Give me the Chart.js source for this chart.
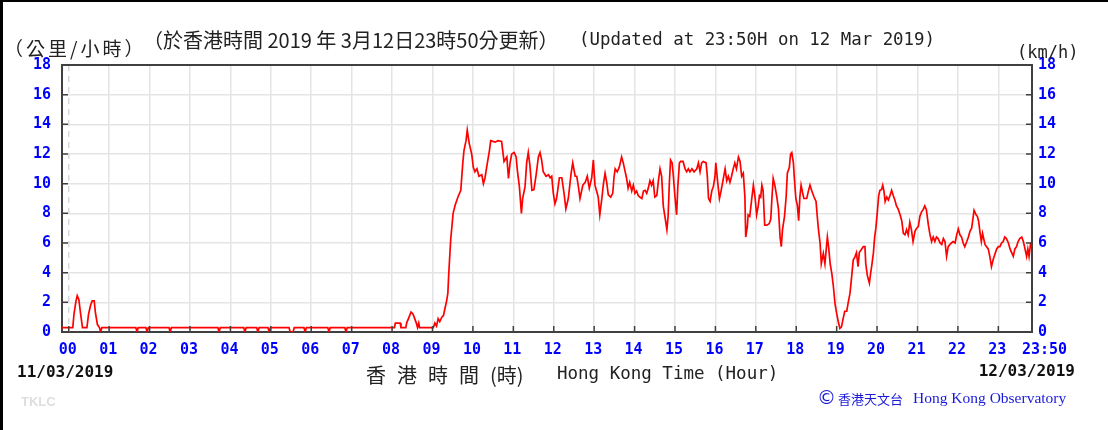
<!DOCTYPE html>
<html><head><meta charset="utf-8">
<script src="https://cdn.jsdelivr.net/npm/chart.js@4.4.1/dist/chart.umd.min.js"></script>
<style>html,body{margin:0;padding:0;background:#fff;}canvas{display:block;}</style>
</head><body>
<canvas id="c" width="1108" height="430"></canvas>
<script>
// ---- data (hour of day, wind speed km/h) ----
const hours = [
-0.167,0.10,0.13,0.18,0.21,0.25,0.29,0.34,0.45,0.49,0.54,0.58,0.63,0.66,0.71,0.76,0.79,0.82,
1.66,1.69,1.72,1.91,1.94,1.97,2.48,2.51,2.54,3.69,3.72,3.75,4.33,4.36,4.39,4.65,4.68,4.71,4.93,4.96,4.99,5.45,5.48,5.55,5.58,5.82,5.85,5.88,6.41,6.44,6.47,6.83,6.86,6.89,
8.06,8.08,8.20,8.22,8.34,8.36,8.42,8.47,8.52,8.56,8.60,8.63,8.66,8.68,9.02,9.06,9.10,9.14,9.18,9.23,9.27,9.31,9.35,9.38,9.40,9.45,9.51,9.56,9.63,9.70,
9.75,9.78,9.83,9.86,9.91,9.97,10.01,10.05,10.10,10.15,10.22,10.26,10.30,10.34,10.41,10.44,10.55,10.62,10.71,10.77,10.84,10.88,10.92,10.96,
11.02,11.07,11.10,11.15,11.20,11.23,11.29,11.33,11.37,11.41,11.46,11.51,11.56,11.62,11.66,11.70,11.74,11.81,11.87,11.91,11.95,11.99,
12.03,12.07,12.14,12.20,12.26,12.30,12.36,12.43,12.47,12.53,12.57,12.61,12.65,12.72,12.78,12.83,12.88,12.94,12.98,
13.02,13.06,13.10,13.14,13.19,13.23,13.27,13.31,13.35,13.41,13.46,13.49,13.52,13.57,13.62,13.68,13.72,13.76,13.80,13.84,13.88,13.93,13.97,
14.01,14.05,14.09,14.13,14.18,14.22,14.26,14.30,14.34,14.38,14.42,14.46,14.50,14.55,14.59,14.63,14.67,14.71,14.75,14.80,14.83,14.86,14.89,14.93,14.96,
15.00,15.04,15.07,15.11,15.14,15.20,15.25,15.29,15.33,15.37,15.42,15.47,15.54,15.58,15.62,15.66,15.70,15.77,15.80,15.83,15.87,15.91,15.95,15.99,
16.01,16.06,16.10,16.14,16.18,16.24,16.28,16.32,16.36,16.40,16.44,16.48,16.52,16.57,16.61,16.65,16.69,16.73,16.75,16.79,16.81,16.85,16.90,16.94,16.98,
17.02,17.06,17.09,17.12,17.15,17.18,17.22,17.27,17.33,17.37,17.40,17.43,17.47,17.52,17.56,17.60,17.63,17.66,17.71,17.75,17.78,17.83,17.86,17.89,17.93,17.95,17.99,
18.03,18.06,18.09,18.12,18.16,18.19,18.26,18.30,18.34,18.38,18.44,18.49,18.52,18.55,18.59,18.62,18.67,18.71,18.74,18.77,18.80,18.84,18.88,18.92,18.96,
19.00,19.04,19.08,19.12,19.16,19.20,19.25,19.29,19.33,19.37,19.41,19.45,19.49,19.53,19.56,19.62,19.66,19.70,19.72,19.76,19.81,19.84,19.87,19.91,19.94,19.97,
20.01,20.04,20.07,20.11,20.14,20.17,20.20,20.24,20.28,20.32,20.36,20.40,20.44,20.48,20.52,20.57,20.61,20.65,20.69,20.73,20.77,20.81,20.85,20.89,20.94,20.98,
21.02,21.06,21.10,21.14,21.18,21.22,21.27,21.31,21.35,21.39,21.43,21.47,21.51,21.56,21.60,21.64,21.68,21.72,21.76,21.80,21.84,21.88,21.93,21.97,
22.01,22.05,22.09,22.13,22.17,22.22,22.26,22.30,22.34,22.38,22.40,22.45,22.48,22.51,22.55,22.58,22.61,22.67,22.71,22.75,22.79,22.83,22.87,22.91,22.96,
23.00,23.04,23.08,23.12,23.16,23.20,23.25,23.29,23.33,23.37,23.41,23.45,23.49,23.53,23.58,23.62,23.66,23.70,23.73,23.76,23.80,23.833
];
const speeds = [
0.3,0.3,1.2,2.1,2.45,2.2,1.3,0.3,0.3,1.2,1.8,2.1,2.1,1.3,0.5,0.3,0,0.3,
0.3,0,0.3,0.3,0,0.3,0.3,0,0.3,0.3,0,0.3,0.3,0,0.3,0.3,0,0.3,0.3,0,0.3,0.3,0,0,0.3,0.3,0,0.3,0.3,0,0.3,0.3,0,0.3,
0.3,0.6,0.6,0.3,0.3,0.6,1.0,1.35,1.2,0.9,0.6,0.3,0.6,0.3,0.3,0.6,0.4,0.9,0.7,1.0,1.1,1.6,2.1,2.6,3.8,6.2,8.0,8.55,9.1,9.55,
11.4,12.25,12.9,13.6,12.7,12.0,11.1,10.8,11.0,10.5,10.6,10.0,10.4,11.1,12.25,12.9,12.8,12.9,12.85,11.5,11.8,10.35,11.4,12.0,
12.1,11.8,10.9,9.8,8.0,9.0,9.8,11.4,12.1,11.25,9.55,9.6,10.5,11.8,12.1,11.6,10.8,10.5,10.6,10.4,10.5,9.35,
8.65,9.0,10.4,10.4,9.25,8.3,9.0,10.7,11.4,10.5,10.5,9.8,9.0,9.9,10.1,10.5,9.7,10.4,11.6,
9.9,9.5,9.1,7.9,9.0,10.0,10.7,10.1,9.25,9.1,9.35,10.4,11.0,10.8,11.1,11.8,11.4,10.9,10.4,9.7,10.1,9.5,9.9,
9.35,9.5,9.2,9.1,9.0,9.5,9.55,9.35,9.7,10.2,9.9,10.2,9.1,9.2,10.2,11.0,10.5,8.5,7.8,6.9,7.8,10.0,11.6,11.4,10.5,
9.1,7.9,9.8,11.4,11.5,11.5,11.0,10.8,11.0,10.8,11.0,10.8,11.0,11.4,10.8,11.4,11.5,11.4,10.5,9.0,8.8,9.5,9.8,10.5,
11.4,10.0,9.0,9.5,10.1,11.0,10.2,10.5,10.1,10.5,11.0,11.4,11.0,11.8,11.5,10.5,10.7,9.1,6.4,7.1,7.9,7.8,9.0,9.9,9.1,
7.9,8.5,9.2,9.1,9.9,9.55,7.2,7.2,7.3,7.6,9.1,10.35,9.9,9.1,8.3,6.4,5.75,6.9,7.8,9.1,10.7,11.1,12.0,12.1,11.4,10.5,9.0,
8.5,7.5,9.1,9.9,9.35,9.0,9.0,9.5,9.9,9.55,9.1,8.8,7.8,6.9,6.0,4.6,5.3,4.6,5.5,6.4,5.75,4.6,3.95,3.05,1.9,
1.25,0.7,0.25,0.35,0.9,1.4,1.4,2.05,2.6,3.7,4.85,5.05,5.35,4.4,5.35,5.6,5.75,5.75,4.6,3.8,3.3,3.95,4.5,5.35,6.4,7.0,
8.2,9.2,9.55,9.6,9.9,9.5,8.8,9.1,8.9,9.2,9.55,9.2,8.9,8.5,8.3,7.9,7.5,6.65,6.55,6.9,6.55,7.4,6.9,6.1,6.8,7.0,
7.1,7.8,8.1,8.25,8.5,8.25,7.2,6.55,6.1,6.4,6.1,6.4,6.3,6.0,5.9,6.3,6.1,5.1,5.75,5.9,6.0,6.1,6.0,6.55,
6.95,6.55,6.4,6.0,5.75,6.1,6.4,6.8,7.0,7.8,8.2,7.9,7.8,7.5,6.65,6.1,6.65,5.9,5.75,5.6,5.1,4.4,4.85,5.2,5.6,
5.75,5.75,6.0,6.1,6.4,6.3,6.0,5.6,5.35,5.1,5.6,5.75,6.1,6.3,6.4,6.1,5.6,5.1,5.6,5.1,6.0,6.0
];
const hourTicks = [0,1,2,3,4,5,6,7,8,9,10,11,12,13,14,15,16,17,18,19,20,21,22,23,23+50/60];
const hourLabels = ['00','01','02','03','04','05','06','07','08','09','10','11','12','13','14','15','16','17','18','19','20','21','22','23','23:50'];
const speedTicks = [0,2,4,6,8,10,12,14,16,18];

const titleZh = '（於香港時間 2019 年 3月12日23時50分更新）';
const titleEn = '(Updated at 23:50H on 12 Mar 2019)';
const unitZh = '（公里/小時）';
const unitEn = '(km/h)';
const axisZh = ['香','港','時','間','(時)'];
const axisEn = 'Hong Kong Time (Hour)';
const dateStart = '11/03/2019';
const dateEnd = '12/03/2019';
const stationCode = 'TKLC';
const credit = 'Hong Kong Observatory';
const creditZh = '香港天文台';

const points = hours.map((h, i) => ({x: h, y: speeds[i]}));
const MONO = '"DejaVu Sans Mono", monospace';
const CJK = '"Noto Sans CJK TC", "Noto Sans CJK SC", sans-serif';
const tickFont = {family: MONO, weight: 'bold', size: 15};

const decor = {
  id: 'decor',
  beforeDraw(chart) {
    const c = chart.ctx;
    c.save(); c.fillStyle = '#fff'; c.fillRect(0, 0, chart.width, chart.height); c.restore();
  },
  beforeDatasetsDraw(chart) {
    const c = chart.ctx, a = chart.chartArea, xs = chart.scales.x;
    c.save();
    c.strokeStyle = '#d8d8d8'; c.lineWidth = 1.5; c.setLineDash([6, 5]);
    const px = xs.getPixelForValue(0);
    c.beginPath(); c.moveTo(px, a.top); c.lineTo(px, a.bottom); c.stroke();
    c.restore();
  },
  afterDraw(chart) {
    const c = chart.ctx, a = chart.chartArea, xs = chart.scales.x, ys = chart.scales.y;
    c.save();
    // outer frame (left & top)
    c.fillStyle = '#000';
    c.fillRect(0, 0, 3, chart.height);
    c.fillRect(0, 0, chart.width, 2);
    // top border of plot
    c.strokeStyle = '#404040'; c.lineWidth = 2;
    c.beginPath(); c.moveTo(a.left, a.top); c.lineTo(a.right, a.top); c.stroke();
    // inward tick marks
    c.lineWidth = 1.5;
    speedTicks.forEach(v => {
      const py = ys.getPixelForValue(v);
      c.beginPath(); c.moveTo(a.left, py); c.lineTo(a.left + 6, py);
      c.moveTo(a.right - 6, py); c.lineTo(a.right, py); c.stroke();
    });
    hourTicks.forEach(v => {
      const px = xs.getPixelForValue(v);
      c.beginPath(); c.moveTo(px, a.bottom); c.lineTo(px, a.bottom - 6); c.stroke();
    });
    // texts
    c.textBaseline = 'middle';
    c.textAlign = 'left';
    c.fillStyle = '#222';
    c.font = '20px ' + CJK;
    c.fillText(titleZh, 143, 40);
    c.font = '17.4px ' + MONO;
    c.fillText(titleEn, 579, 40);
    c.font = '19px ' + CJK;
    if ('letterSpacing' in c) c.letterSpacing = '3px';
    c.fillText(unitZh, 4, 49);
    if ('letterSpacing' in c) c.letterSpacing = '0px';
    c.font = '17px ' + MONO;
    c.fillText(unitEn, 1017, 54);
    // axis title
    c.font = '20px ' + CJK;
    const zx = [366, 397, 428, 459, 490];
    axisZh.forEach((t, i) => c.fillText(t, zx[i], 375));
    c.font = '17.5px ' + MONO;
    c.fillText(axisEn, 557, 374);
    // dates
    c.fillStyle = '#111';
    c.font = 'bold 16px ' + MONO;
    c.fillText(dateStart, 17, 373);
    c.textAlign = 'right';
    c.fillText(dateEnd, 1075, 372);
    // station code
    c.textAlign = 'left';
    c.fillStyle = '#dedede';
    c.font = 'bold 13px "Liberation Sans", Arial, sans-serif';
    c.fillText(stationCode, 21, 402);
    // credit
    c.fillStyle = '#1a1ad8';
    c.font = '19px "DejaVu Sans", sans-serif';
    c.fillText('©', 817, 399);
    c.font = '13px ' + CJK;
    c.fillText(creditZh, 838, 399);
    c.font = '15.5px "Liberation Serif", serif';
    c.fillText(credit, 913, 399);
    c.restore();
  }
};

new Chart(document.getElementById('c'), {
  type: 'line',
  data: {
    datasets: [{
      data: points,
      borderColor: '#ff0000',
      borderWidth: 1.7,
      pointRadius: 0,
      tension: 0,
      fill: false,
      yAxisID: 'y'
    }]
  },
  options: {
    responsive: false,
    animation: false,
    devicePixelRatio: 1,
    events: [],
    layout: {padding: {top: 65, left: 0, right: 0, bottom: 0}},
    plugins: {legend: {display: false}, tooltip: {enabled: false}, title: {display: false}},
    scales: {
      x: {
        type: 'linear',
        min: -10 / 60,
        max: 23 + 50 / 60,
        afterBuildTicks: s => { s.ticks = hourTicks.map(v => ({value: v})); },
        afterFit: s => { s.height = 98; },
        grid: {
          color: ctx => (ctx.tick && ctx.tick.value === 0) ? 'rgba(0,0,0,0)' : '#e4e4e4',
          lineWidth: 1.5,
          drawTicks: false
        },
        border: {color: '#404040', width: 2},
        ticks: {
          autoSkip: false, maxRotation: 0, minRotation: 0,
          align: 'start', labelOffset: -10, padding: 9,
          color: '#0000ff', font: tickFont,
          callback: (v, i) => hourLabels[i]
        }
      },
      y: {
        position: 'left',
        min: 0, max: 18,
        afterBuildTicks: s => { s.ticks = speedTicks.map(v => ({value: v})); },
        afterFit: s => { s.width = 62; },
        grid: {color: '#e4e4e4', lineWidth: 1.5, drawTicks: false},
        border: {color: '#404040', width: 2},
        ticks: {padding: 11, color: '#0000ff', font: tickFont}
      },
      y2: {
        position: 'right',
        min: 0, max: 18,
        afterBuildTicks: s => { s.ticks = speedTicks.map(v => ({value: v})); },
        afterFit: s => { s.width = 76; },
        grid: {drawOnChartArea: false, drawTicks: false},
        border: {color: '#404040', width: 2},
        ticks: {padding: 6, color: '#0000ff', font: tickFont}
      }
    }
  },
  plugins: [decor]
});
</script>
</body></html>
